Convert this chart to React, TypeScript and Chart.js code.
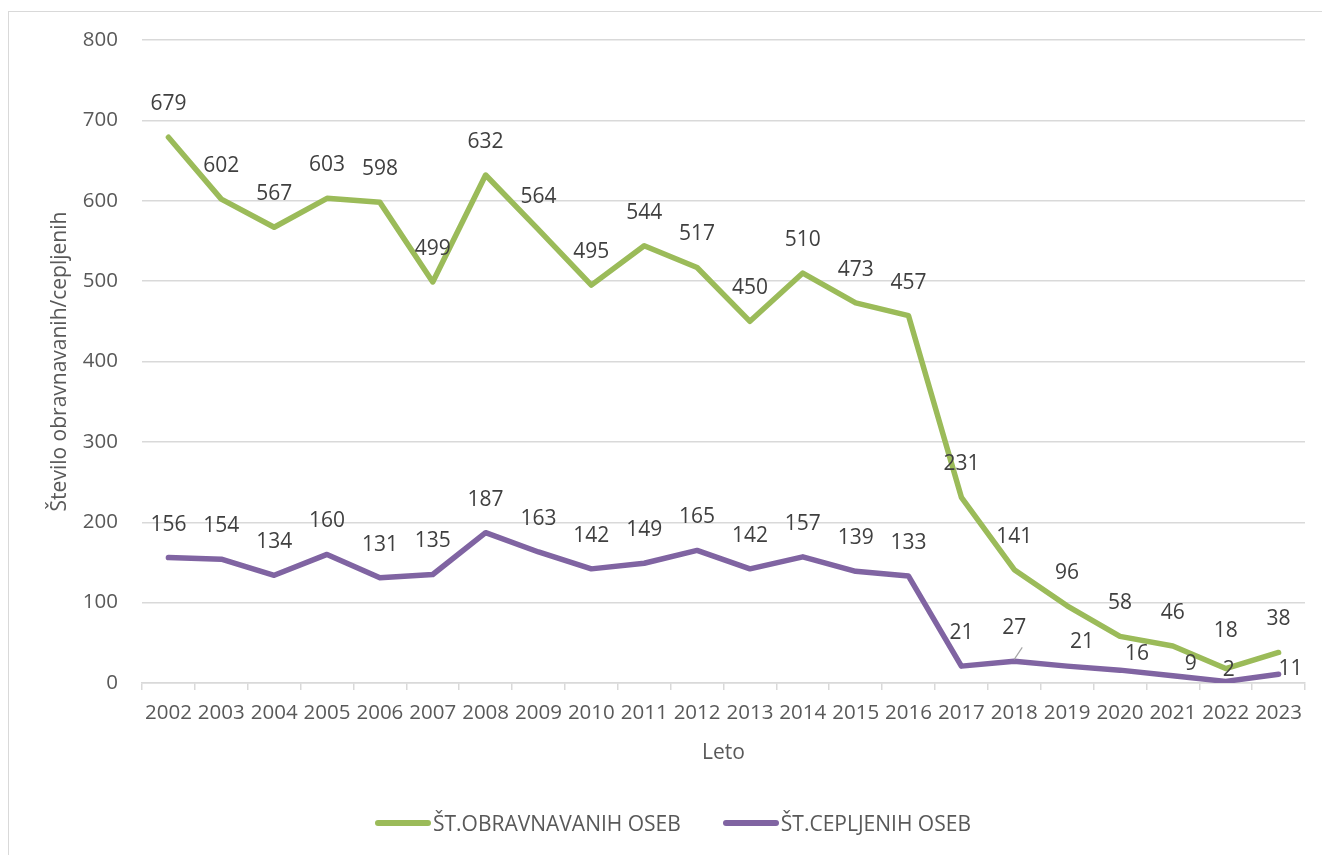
import React, { useEffect, useRef } from "react";
import { Chart, registerables } from "chart.js";

Chart.register(...registerables);

const years = ["2002","2003","2004","2005","2006","2007","2008","2009","2010","2011","2012","2013","2014","2015","2016","2017","2018","2019","2020","2021","2022","2023"];
const obravnavani = [679,602,567,603,598,499,632,564,495,544,517,450,510,473,457,231,141,96,58,46,18,38];
const cepljeni = [156,154,134,160,131,135,187,163,142,149,165,142,157,139,133,21,27,21,16,9,2,11];
const seriesNames = ["ŠT.OBRAVNAVANIH OSEB", "ŠT.CEPLJENIH OSEB"];
const seriesColors = ["#9BBB59", "#8064A2"];
const yTitle = "Število obravnavanih/cepljenih";
const xTitle = "Leto";

// label placement adjustments (dx, dy in px) keyed by index
const greenLabelAdjust: Record<number, [number, number]> = { 20: [0, -38] };
const purpleLabelAdjust: Record<number, [number, number]> = {
  17: [15, -24],
  18: [17, -16],
  19: [18, -12],
  20: [3, -11],
  21: [12, -5],
};
const leaderLabels = [{ ds: 1, idx: 16 }];

const FONT = "'Open Sans', sans-serif";

const labelPlugin = {
  id: "pointLabels",
  afterDatasetsDraw(chart: any) {
    const ctx = chart.ctx;
    ctx.save();
    ctx.font = `21px ${FONT}`;
    ctx.fillStyle = "#404040";
    ctx.textAlign = "center";
    ctx.textBaseline = "middle";
    chart.data.datasets.forEach((ds: any, di: number) => {
      const meta = chart.getDatasetMeta(di);
      const adj = di === 0 ? greenLabelAdjust : purpleLabelAdjust;
      meta.data.forEach((pt: any, i: number) => {
        const [dx, dy] = adj[i] || [0, -33];
        const x = pt.x + dx;
        const y = pt.y + dy;
        if (leaderLabels.some((l) => l.ds === di && l.idx === i)) {
          ctx.save();
          ctx.strokeStyle = "#a6a6a6";
          ctx.lineWidth = 1.2;
          ctx.beginPath();
          ctx.moveTo(pt.x, pt.y - 2);
          ctx.lineTo(pt.x + 8, pt.y - 14);
          ctx.stroke();
          ctx.restore();
        }
        ctx.fillText(String(ds.data[i]), x, y);
      });
    });
    ctx.restore();
  },
};

export default function App() {
  const ref = useRef<HTMLCanvasElement>(null);
  useEffect(() => {
    if (!ref.current) return;
    const mk = (label: string, data: number[], color: string) => ({
      label,
      data,
      borderColor: color,
      backgroundColor: color,
      borderWidth: 5.5,
      pointRadius: 0,
      tension: 0,
      borderCapStyle: "round" as const,
      borderJoinStyle: "round" as const,
    });
    const chart = new Chart(ref.current, {
      type: "line",
      data: {
        labels: years,
        datasets: [
          mk(seriesNames[0], obravnavani, seriesColors[0]),
          mk(seriesNames[1], cepljeni, seriesColors[1]),
        ],
      },
      options: {
        animation: false,
        responsive: false,
        layout: { padding: { left: 47, right: 17, top: 40, bottom: 89 } },
        plugins: {
          tooltip: { enabled: false },
          legend: { display: false },
        },
        scales: {
          x: {
            offset: true,
            border: { display: true, color: "#d9d9d9", width: 1.5 },
            grid: {
              offset: true,
              drawOnChartArea: false,
              drawTicks: true,
              tickLength: 7,
              color: "#d9d9d9",
              lineWidth: 1.5,
            },
            ticks: {
              font: { family: FONT, size: 20.5 },
              color: "#595959",
              padding: 11,
              maxRotation: 0,
              autoSkip: false,
            },
            title: {
              display: true,
              text: xTitle,
              font: { family: FONT, size: 21 },
              color: "#595959",
              padding: { top: 0, bottom: 0 },
            },
            afterFit(scale: any) {
              scale.height = 83;
            },
          },
          y: {
            min: 0,
            max: 800,
            border: { display: false },
            grid: { color: "#d9d9d9", lineWidth: 1.5, drawTicks: false },
            ticks: {
              stepSize: 100,
              font: { family: FONT, size: 20.5 },
              color: "#595959",
              padding: 24,
            },
            title: {
              display: true,
              text: yTitle,
              font: { family: FONT, size: 21 },
              color: "#595959",
              padding: 0,
            },
            afterFit(scale: any) {
              scale.width = 95;
            },
          },
        },
      },
      plugins: [labelPlugin],
    });
    return () => chart.destroy();
  }, []);
  return (
    <div style={{ position: "fixed", left: 0, top: 0, width: 1322, height: 855, background: "#fff", overflow: "hidden" }}>
      <div style={{ position: "absolute", left: 8, top: 11, width: 1340, height: 880, border: "1.5px solid #d9d9d9", boxSizing: "border-box" }} />
      <canvas ref={ref} width={1322} height={855} style={{ position: "absolute", left: 0, top: 0 }} />
      <div
        style={{
          position: "absolute",
          left: 375,
          top: 808,
          height: 30,
          display: "flex",
          alignItems: "center",
          fontFamily: FONT,
          fontSize: 21,
          color: "#595959",
          whiteSpace: "nowrap",
        }}
      >
        {seriesNames.map((n, i) => (
          <div key={n} style={{ display: "flex", alignItems: "center", marginRight: i === 0 ? 42 : 0 }}>
            <span
              style={{
                display: "inline-block",
                width: 56,
                height: 5.5,
                borderRadius: 3,
                background: seriesColors[i],
                marginRight: 2,
              }}
            />
            <span>{n}</span>
          </div>
        ))}
      </div>
    </div>
  );
}
